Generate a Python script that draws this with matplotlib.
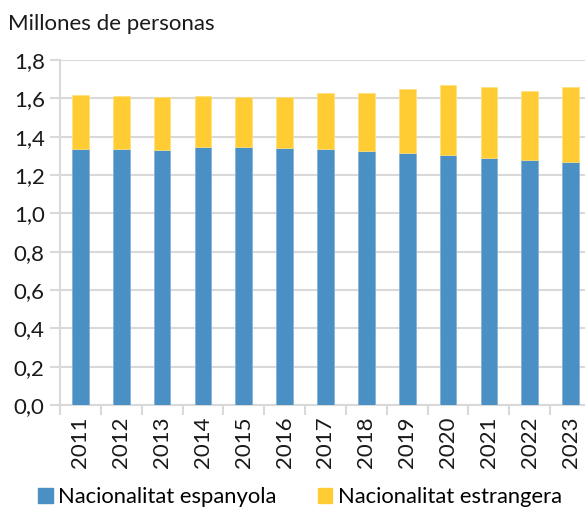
import numpy as np
import matplotlib
matplotlib.use("Agg")
import matplotlib.pyplot as plt
from matplotlib.patches import Patch

# Data (millions of people)
years = ["2011", "2012", "2013", "2014", "2015", "2016", "2017",
         "2018", "2019", "2020", "2021", "2022", "2023"]
spanish = [1.336, 1.334, 1.329, 1.344, 1.344, 1.342, 1.337,
           1.326, 1.316, 1.303, 1.287, 1.276, 1.267]
totals = [1.618, 1.614, 1.609, 1.614, 1.609, 1.609, 1.626,
          1.630, 1.651, 1.668, 1.659, 1.640, 1.659]
foreign = [t - s for t, s in zip(totals, spanish)]

y_ticks = [0.0, 0.2, 0.4, 0.6, 0.8, 1.0, 1.2, 1.4, 1.6, 1.8]
y_labels = ["0,0", "0,2", "0,4", "0,6", "0,8", "1,0", "1,2", "1,4", "1,6", "1,8"]

blue = "#4a90c4"
yellow = "#ffcc33"
grid_col = "#d9d9d9"

plt.rcParams['font.family'] = ['Lato', 'DejaVu Sans']

W, H = 585, 507
fig = plt.figure(figsize=(W / 100, H / 100), dpi=100)
ax = fig.add_axes([60 / W, (H - 405) / H, (591 - 60) / W, (405 - 60) / H])

x = np.arange(len(years))
ax.bar(x, spanish, width=0.41, color=blue, edgecolor="#7fb0d8", linewidth=0.5, zorder=3)
ax.bar(x, foreign, width=0.41, bottom=spanish, color=yellow, edgecolor="#ffe07a",
       linewidth=0.5, zorder=3)

ax.set_xlim(-0.5, len(years) - 0.5)
ax.set_ylim(0, 1.8)
ax.set_yticks(y_ticks)
ax.set_yticklabels(y_labels, fontsize=16, color="#1a1a1a")
ax.yaxis.grid(True, color=grid_col, linewidth=1.5, zorder=0)

ax.set_xticks(x)
ax.set_xticklabels(years, rotation=90, fontsize=16, color="#1a1a1a")
ax.set_xticks(np.arange(-0.5, len(years), 1.0), minor=True)
ax.tick_params(axis="x", which="major", length=0, pad=8)
ax.tick_params(axis="x", which="minor", length=7, width=1.5, color=grid_col)
ax.tick_params(axis="y", length=7, width=1.5, color=grid_col, pad=4)

for side in ["top", "right"]:
    ax.spines[side].set_visible(False)
ax.spines["left"].set_color(grid_col)
ax.spines["left"].set_linewidth(1.5)
ax.spines["bottom"].set_color(grid_col)
ax.spines["bottom"].set_linewidth(1.5)

fig.text(8 / W, 1 - 24 / H, "Millones de personas", fontsize=16, color="#1a1a1a",
         va="center", ha="left")

handles = [Patch(color=blue, label="Nacionalitat espanyola"),
           Patch(color=yellow, label="Nacionalitat estrangera")]
fig.legend(handles=handles, loc="center", bbox_to_anchor=(0.513, 1 - 497 / H), ncol=2,
           frameon=False, fontsize=15.8, handlelength=0.65, handleheight=0.65,
           handletextpad=0.25, columnspacing=1.9, borderaxespad=0, borderpad=0)

fig.savefig("out.png", dpi=100)
